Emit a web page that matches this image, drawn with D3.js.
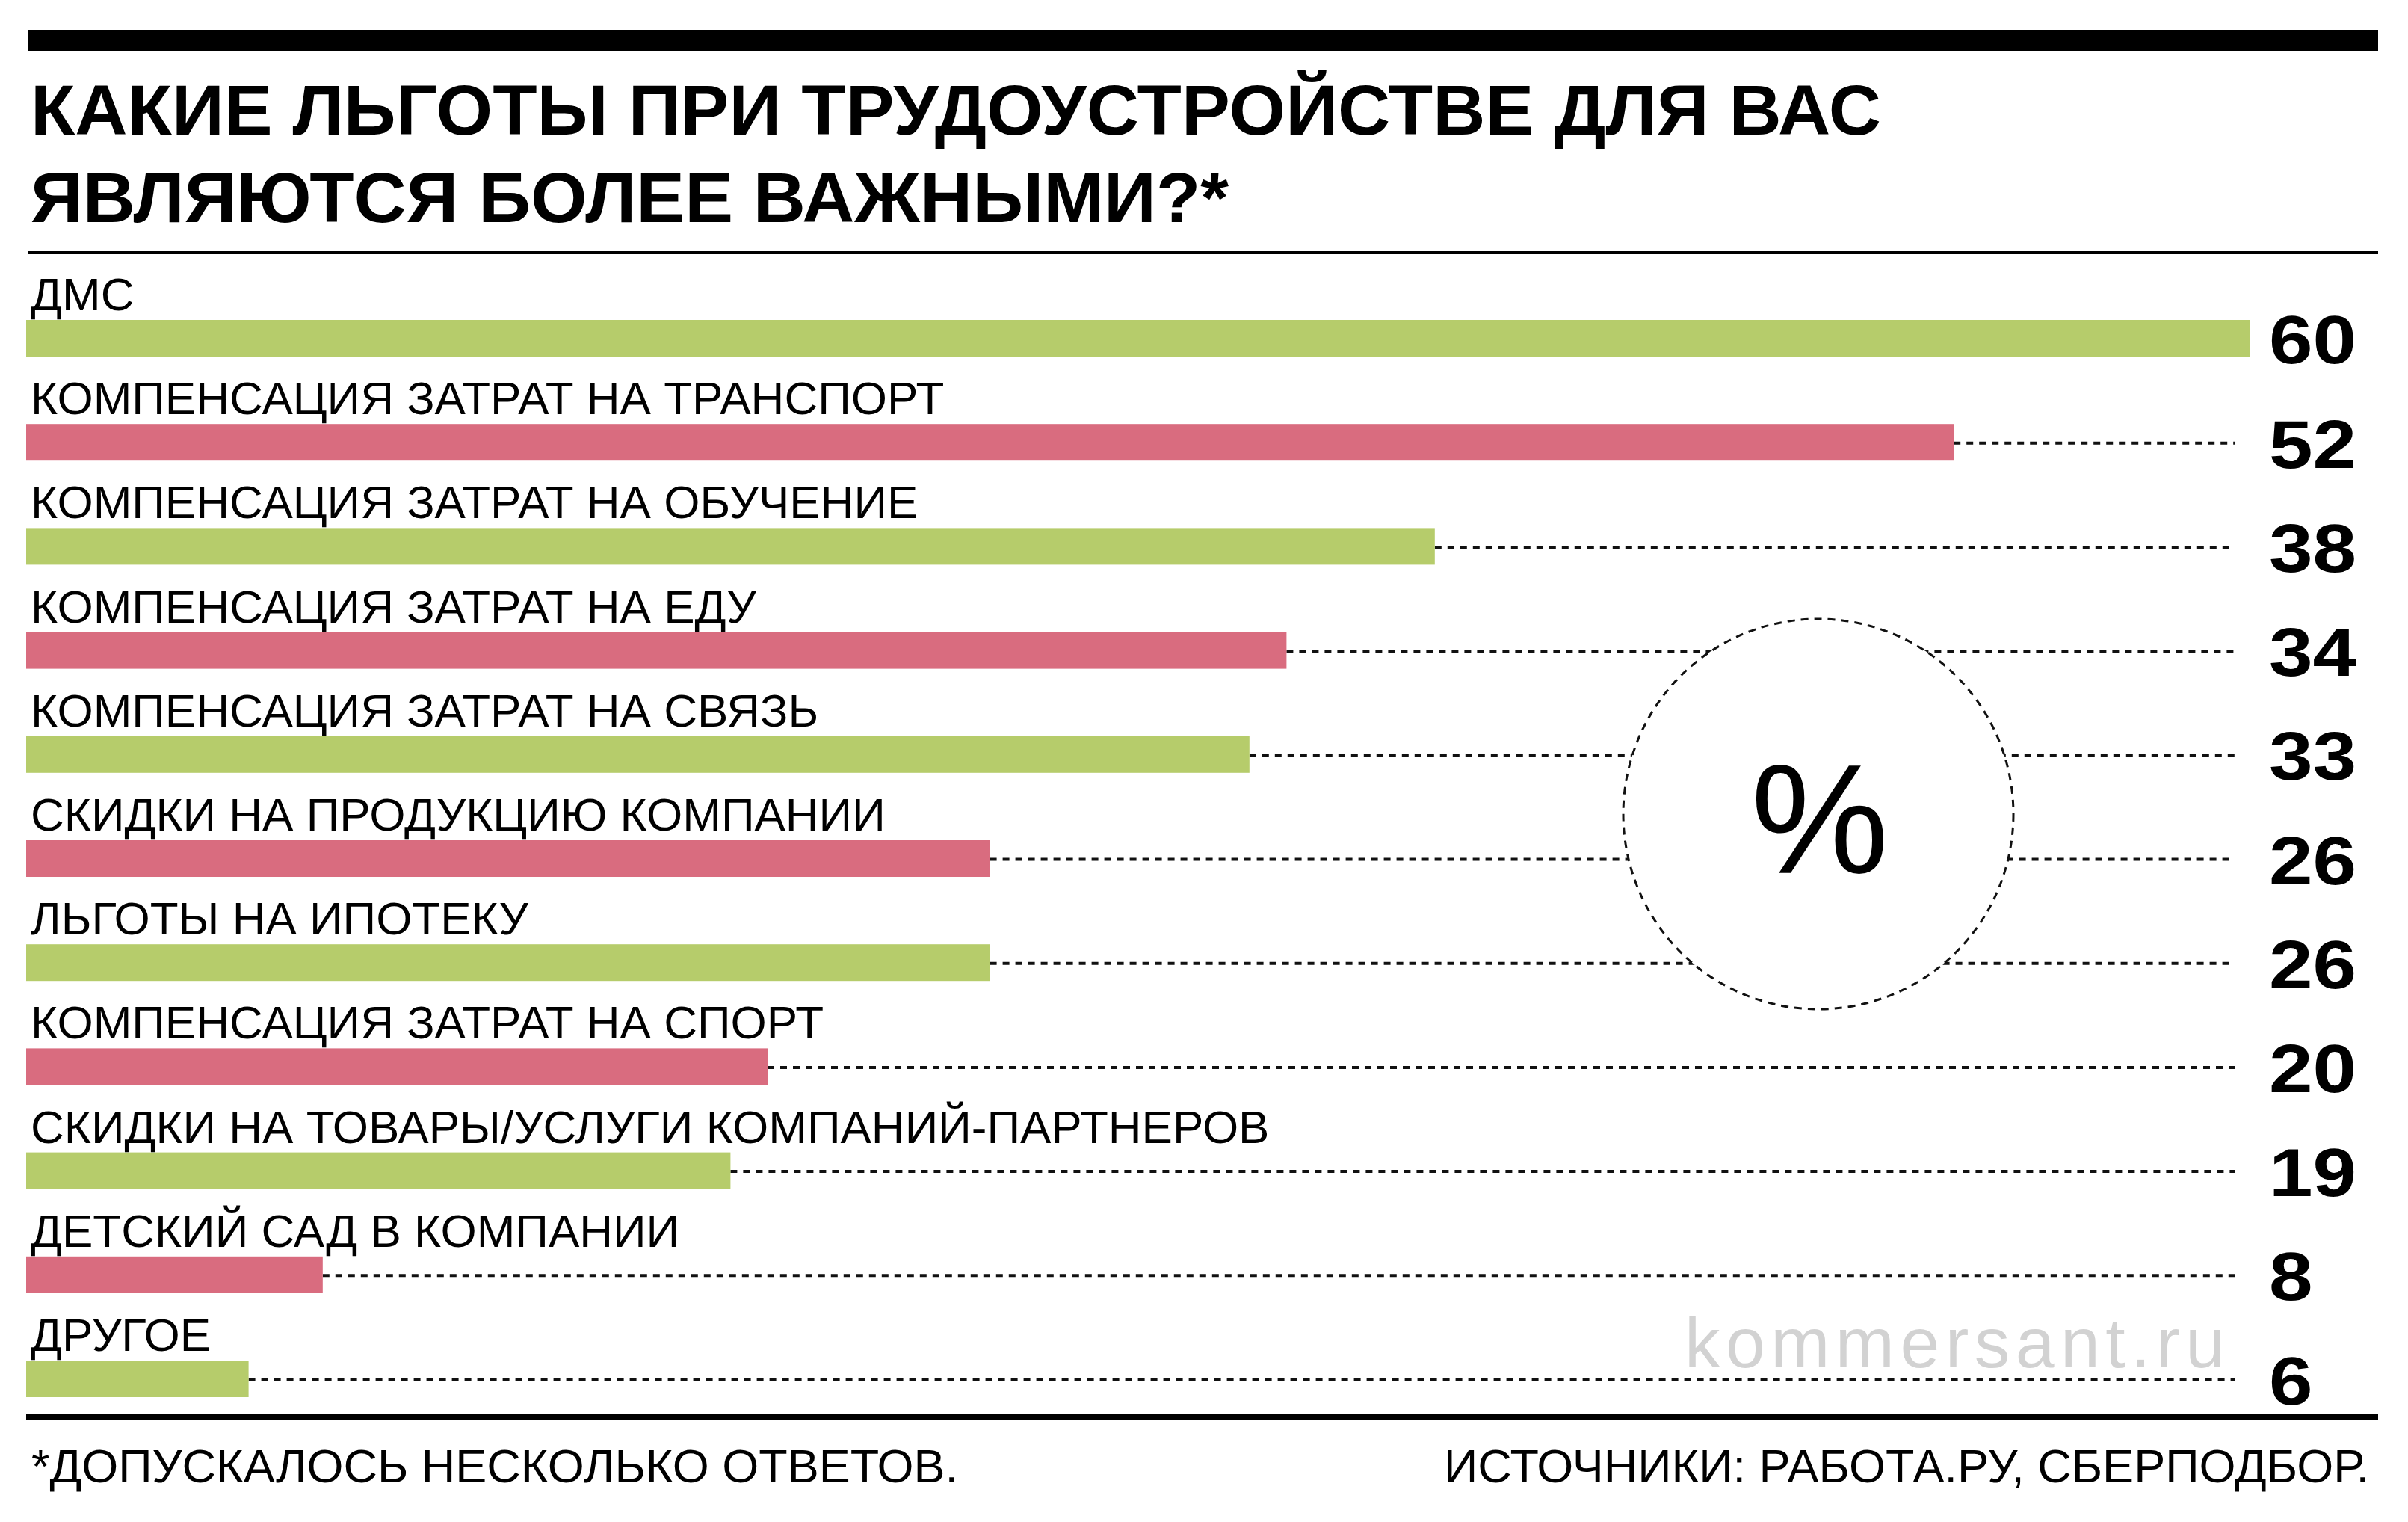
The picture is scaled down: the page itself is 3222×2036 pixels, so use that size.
<html>
<head>
<meta charset="utf-8">
<script src="https://d3js.org/d3.v7.min.js"></script>
<style>
  body { margin: 0; background: #fff; }
  text { font-family: "Liberation Sans", Arial, sans-serif; }
</style>
</head>
<body>
<svg id="chart" width="3222" height="2036"></svg>
<script>
// data
var categories = [
  "ДМС",
  "КОМПЕНСАЦИЯ ЗАТРАТ НА ТРАНСПОРТ",
  "КОМПЕНСАЦИЯ ЗАТРАТ НА ОБУЧЕНИЕ",
  "КОМПЕНСАЦИЯ ЗАТРАТ НА ЕДУ",
  "КОМПЕНСАЦИЯ ЗАТРАТ НА СВЯЗЬ",
  "СКИДКИ НА ПРОДУКЦИЮ КОМПАНИИ",
  "ЛЬГОТЫ НА ИПОТЕКУ",
  "КОМПЕНСАЦИЯ ЗАТРАТ НА СПОРТ",
  "СКИДКИ НА ТОВАРЫ/УСЛУГИ КОМПАНИЙ-ПАРТНЕРОВ",
  "ДЕТСКИЙ САД В КОМПАНИИ",
  "ДРУГОЕ"
];
var values = [60, 52, 38, 34, 33, 26, 26, 20, 19, 8, 6];
var titleLines = ["КАКИЕ ЛЬГОТЫ ПРИ ТРУДОУСТРОЙСТВЕ ДЛЯ ВАС", "ЯВЛЯЮТСЯ БОЛЕЕ ВАЖНЫМИ?*"];
var footnote = "*ДОПУСКАЛОСЬ НЕСКОЛЬКО ОТВЕТОВ.";
var source = "ИСТОЧНИКИ: РАБОТА.РУ, СБЕРПОДБОР.";
var unit = "%";
var watermark = "kommersant.ru";

var green = "#b6cc6b", pink = "#d96c7f";

var svg = d3.select("#chart");

var left = 35, right = 3182;
var lineEnd = 2990;      // where the dotted leaders stop
var numX = 3036;         // value labels

var x = d3.scaleLinear().domain([0, 60]).range([left, 3011]);
var y = d3.scaleBand().domain(categories).range([428, 1869]).paddingInner(0.648).paddingOuter(0);

var rows = categories.map(function(c, i) { return {name: c, value: values[i], i: i}; });

// top heavy rule
svg.append("rect").attr("x", 37).attr("y", 40).attr("width", right - 37).attr("height", 28).attr("fill", "#000");

// title
svg.selectAll(".title").data(titleLines).enter().append("text")
  .attr("class", "title")
  .attr("x", 41)
  .attr("y", function(d, i) { return 180 + i * 117; })
  .attr("font-size", 94)
  .attr("font-weight", "bold")
  .attr("textLength", function(d, i) { return i == 0 ? 2476 : 1603; })
  .attr("lengthAdjust", "spacingAndGlyphs")
  .text(function(d) { return d; });

// thin rule under title
svg.append("rect").attr("x", 37).attr("y", 336).attr("width", right - 37).attr("height", 4).attr("fill", "#000");

// dotted leaders
svg.selectAll(".lead").data(rows.filter(function(d) { return x(d.value) < lineEnd; })).enter().append("line")
  .attr("x1", function(d) { return x(d.value); })
  .attr("x2", lineEnd)
  .attr("y1", function(d) { return y(d.name) + y.bandwidth() / 2 + 1; })
  .attr("y2", function(d) { return y(d.name) + y.bandwidth() / 2 + 1; })
  .attr("stroke", "#111")
  .attr("stroke-width", 4)
  .attr("stroke-dasharray", "9,8");

// bars
svg.selectAll(".bar").data(rows).enter().append("rect")
  .attr("x", x(0))
  .attr("y", function(d) { return y(d.name); })
  .attr("width", function(d) { return x(d.value) - x(0); })
  .attr("height", y.bandwidth())
  .attr("fill", function(d) { return d.i % 2 == 0 ? green : pink; });

// category labels
svg.selectAll(".lab").data(rows).enter().append("text")
  .attr("x", 41)
  .attr("y", function(d) { return y(d.name) - 13; })
  .attr("font-size", 62)
  .attr("fill", "#000")
  .text(function(d) { return d.name; });

// values (the original face has wider digits, so stretch a bit)
svg.selectAll(".val").data(rows).enter().append("text")
  .attr("transform", function(d) {
    return "translate(" + numX + "," + (y(d.name) + y.bandwidth() / 2 + 34) + ") scale(1.17,1)";
  })
  .attr("font-size", 90)
  .attr("font-weight", "bold")
  .text(function(d) { return d.value; });

// % circle
svg.append("circle")
  .attr("cx", 2433).attr("cy", 1089).attr("r", 261)
  .attr("fill", "#fff")
  .attr("stroke", "#111")
  .attr("stroke-width", 3)
  .attr("stroke-dasharray", "10,8");

svg.append("text")
  .attr("x", 2435).attr("y", 1168)
  .attr("text-anchor", "middle")
  .attr("font-size", 208)
  .text(unit);

// watermark
svg.append("text")
  .attr("x", 2254).attr("y", 1829)
  .attr("font-size", 95)
  .attr("fill", "#d2d2d2")
  .attr("textLength", 723)
  .attr("lengthAdjust", "spacing")
  .text(watermark);

// bottom rule
svg.append("rect").attr("x", 35).attr("y", 1891).attr("width", right - 35).attr("height", 9).attr("fill", "#000");

// footer
svg.append("text").attr("x", 42).attr("y", 1983).attr("font-size", 63).text(footnote);
svg.append("text").attr("x", 3170).attr("y", 1983).attr("font-size", 63).attr("text-anchor", "end").text(source);
</script>
</body>
</html>
